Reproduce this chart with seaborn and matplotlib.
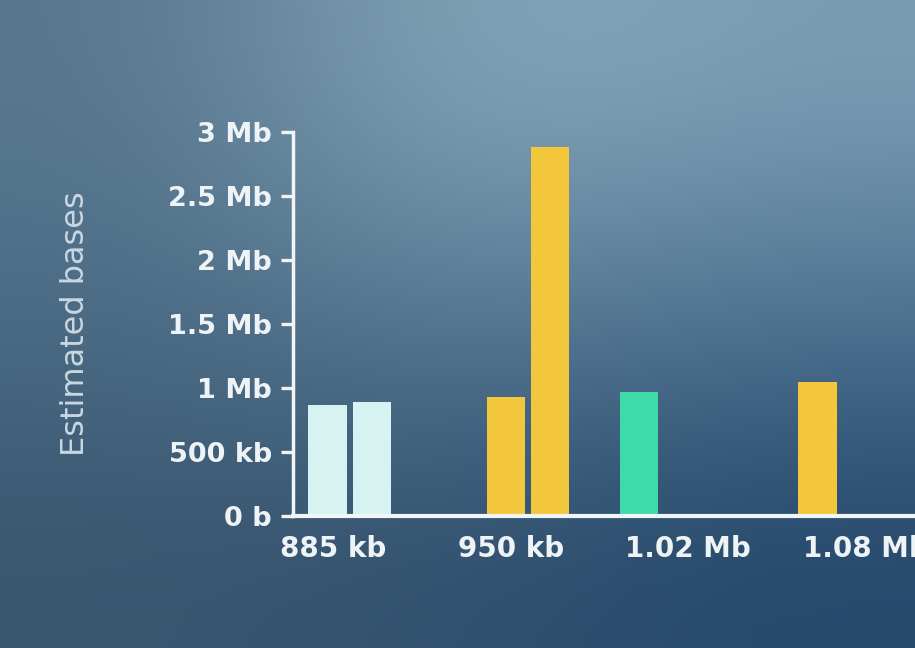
import numpy as np
import pandas as pd
import matplotlib
matplotlib.use("Agg")
import matplotlib.pyplot as plt
import seaborn as sns
from matplotlib.colors import to_rgb

# ---- data ----
bin_centers_kb = [883.0, 899.3, 948.2, 964.5, 997.1, 1062.3]
estimated_bases = [0.867e6, 0.89e6, 0.93e6, 2.88e6, 0.97e6, 1.05e6]
bar_group = ["cyan", "cyan", "yellow", "yellow", "green", "yellow"]
group_colors = {"cyan": "#d6f3f2", "yellow": "#f3c73c", "green": "#3ddba8"}

x_tick_values = [885, 950, 1015, 1080]
x_tick_labels = ["885 kb", "950 kb", "1.02 Mb", "1.08 Mb"]
y_tick_values = [0, 0.5e6, 1e6, 1.5e6, 2e6, 2.5e6, 3e6]
y_tick_labels = ["0 b", "500 kb", "1 Mb", "1.5 Mb", "2 Mb", "2.5 Mb", "3 Mb"]
y_label = "Estimated bases"

df = pd.DataFrame({"length_kb": bin_centers_kb,
                   "bases": estimated_bases,
                   "group": bar_group})

sns.set_style("white")
plt.rcParams["font.family"] = ["DejaVu Sans"]

fig = plt.figure(figsize=(9.15, 6.48), dpi=100)

# background (photo-like screen gradient)
bg = fig.add_axes([0, 0, 1, 1], zorder=-10)
grid = [["#58778f", "#88a8bb", "#7c9db4"],
        ["#4a6a84", "#587a93", "#4a6f8e"],
        ["#3a566f", "#31506d", "#24476b"]]
img = np.array([[to_rgb(c) for c in row] for row in grid])
bg.imshow(img, extent=[0, 1, 0, 1], aspect="auto", interpolation="bicubic")
bg.set_axis_off()

ax = fig.add_axes([0.320, 0.2037, 0.680, 0.5926])
ax.patch.set_alpha(0)

sns.barplot(data=df, x="length_kb", y="bases", hue="group",
            palette=group_colors, native_scale=True, width=0.86,
            saturation=1, errorbar=None, legend=False, linewidth=0, ax=ax)

ax.set_xlim(870.3, 1098)
ax.set_ylim(0, 3e6)

ax.set_xticks(x_tick_values)
ax.set_xticklabels(x_tick_labels)
ax.set_yticks(y_tick_values)
ax.set_yticklabels(y_tick_labels)

txt = "#eef3f6"
ax.tick_params(axis="x", length=0, pad=14, labelsize=20, colors=txt)
ax.tick_params(axis="y", length=9, width=2.4, pad=6, labelsize=19.5,
               colors=txt, direction="out", left=True)
for lab in ax.get_xticklabels() + ax.get_yticklabels():
    lab.set_color(txt)
    lab.set_fontweight("bold")

for side in ["top", "right"]:
    ax.spines[side].set_visible(False)
for side in ["left", "bottom"]:
    ax.spines[side].set_visible(True)
    ax.spines[side].set_color("#f2f5f7")
ax.spines["left"].set_linewidth(2.5)
ax.spines["bottom"].set_linewidth(3)

ax.set_xlabel("")
ax.set_ylabel(y_label, fontsize=23, color="#cad7e0")
ax.yaxis.set_label_coords(-0.325, 0.5)

fig.savefig("out.png", dpi=100)
